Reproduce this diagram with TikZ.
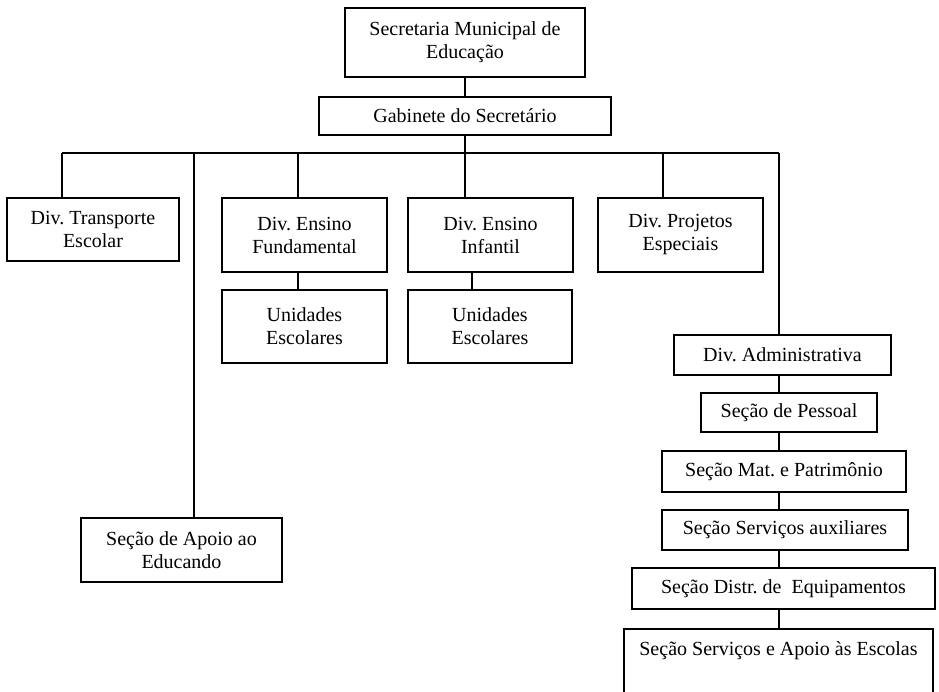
\documentclass[tikz,border=0pt]{standalone}
\usepackage{fontspec}
\setmainfont{Liberation Serif}
\usetikzlibrary{calc}
\frenchspacing

\begin{document}
\begin{tikzpicture}[x=0.6pt, y=-0.6pt, line width=1.1pt,
  box/.style={draw, rectangle, align=center, inner sep=0pt, font=\fontsize{12}{13.8}\selectfont}]
\useasboundingbox (0,0) rectangle (939,692);
\clip (0,0) rectangle (939,692);

% top
\node[box, minimum width=144pt, minimum height=41.4pt] (sec) at (465,42.5) {Secretaria Municipal de\\Educação};
\node[box, minimum width=175.2pt, minimum height=22.8pt] (gab) at (465,116) {Gabinete do Secretário};

% divisions
\node[box, minimum width=103.2pt, minimum height=37.8pt] (transp) at (93,229.5) {Div. Transporte\\Escolar};
\node[box, minimum width=99pt, minimum height=44.4pt] (fund) at (304.5,235) {Div. Ensino\\Fundamental};
\node[box, minimum width=99pt, minimum height=44.4pt] (infant) at (490.5,235) {Div. Ensino\\Infantil};
\node[box, minimum width=99pt, minimum height=44.4pt] (proj) at (680.5,235) {Div. Projetos\\Especiais};
\node[box, minimum width=99pt, minimum height=43.8pt] (unid1) at (304.5,326.5) {Unidades\\Escolares};
\node[box, minimum width=98.4pt, minimum height=43.8pt] (unid2) at (490,326.5) {Unidades\\Escolares};
\node[box, minimum width=120.6pt, minimum height=38.4pt] (apoio) at (181.5,550) {Seção de Apoio ao\\Educando};

% administrative chain
\node[box, minimum width=130.2pt, minimum height=24pt] (adm) at (782.5,355) {Div. Administrativa};
\node[box, minimum width=105.6pt, minimum height=23.4pt] (pessoal) at (789,412.5) {Seção de Pessoal};
\node[box, minimum width=146.4pt, minimum height=24.6pt] (mat) at (784,471.5) {Seção Mat. e Patrimônio};
\node[box, minimum width=147.6pt, minimum height=24pt] (aux) at (785,530) {Seção Serviços auxiliares};
\node[box, minimum width=181.8pt, minimum height=24.6pt] (distr) at (783.5,588.5) {Seção Distr. de~ Equipamentos};
\node[box, minimum width=185.4pt, anchor=north, text height=16.2pt, text depth=30pt] (escolas) at (778.5,628) {Seção Serviços e Apoio às Escolas};

% connectors
\coordinate (b1) at (62,153);
\coordinate (b2) at (194,153);
\coordinate (b3) at (298,153);
\coordinate (b4) at (465,153);
\coordinate (b5) at (663,153);
\coordinate (b6) at (779,153);
\coordinate (u2) at (472,300);

\draw (sec) -- (gab);
\draw (gab.south) -- (b4);
\draw (b1) -- (b6);
\foreach \n/\b in {transp/b1, apoio/b2, fund/b3, infant/b4, proj/b5, adm/b6}
  \draw (\b) -- (\b |- \n.north);
\draw (fund.south -| b3) -- (unid1.north -| b3);
\draw (infant.south -| u2) -- (unid2.north -| u2);
\foreach \a/\c in {adm/pessoal, pessoal/mat, mat/aux, aux/distr, distr/escolas}
  \draw (\a.south -| b6) -- (\c.north -| b6);
\end{tikzpicture}
\end{document}
